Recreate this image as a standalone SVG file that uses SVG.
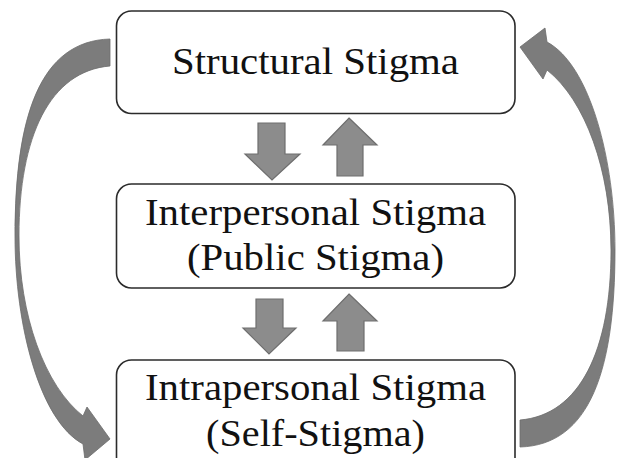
<svg xmlns="http://www.w3.org/2000/svg" width="618" height="458" viewBox="0 0 618 458">
<style>
.box{fill:#ffffff;stroke:#2b2b2b;stroke-width:1.6}
.lbl{font-family:"Liberation Serif","Times New Roman",serif;font-size:38px;fill:#111111;text-anchor:middle}
.blk{fill:#8c8c8c;stroke:#6e6e6e;stroke-width:1.2;stroke-linejoin:miter}
.crv{fill:#7c7c7c;stroke:#6c6c6c;stroke-width:0.8;stroke-linejoin:miter}
</style>
<rect width="618" height="458" fill="#ffffff"/>
<g id="node-structural">
<rect class="box" x="116.5" y="11" width="398.5" height="102.5" rx="15" ry="15"/>
<text class="lbl" x="315.5" y="74" textLength="287" lengthAdjust="spacingAndGlyphs">Structural Stigma</text>
</g>
<g id="node-interpersonal">
<rect class="box" x="116.5" y="184" width="398.5" height="104" rx="15" ry="15"/>
<text class="lbl" x="315.5" y="225" textLength="341" lengthAdjust="spacingAndGlyphs">Interpersonal Stigma</text>
<text class="lbl" x="315.5" y="270" textLength="257" lengthAdjust="spacingAndGlyphs">(Public Stigma)</text>
</g>
<g id="node-intrapersonal">
<rect class="box" x="116.5" y="360" width="398.5" height="120" rx="15" ry="15"/>
<text class="lbl" x="315.5" y="400" textLength="341" lengthAdjust="spacingAndGlyphs">Intrapersonal Stigma</text>
<text class="lbl" x="315.5" y="446" textLength="219" lengthAdjust="spacingAndGlyphs">(Self-Stigma)</text>
</g>
<g id="connectors">
<polygon class="blk" points="258,123 285,123 285,154 300,154 272,180 245,154 258,154"/>
<polygon class="blk" points="349,118 377,145 363,145 363,176 337,176 337,145 323,145"/>
<polygon class="blk" points="256,299 283,299 283,328 296,328 269,354 243,328 256,328"/>
<polygon class="blk" points="349,294 377,321 364,321 364,351 337,351 337,321 323,321"/>
<path class="crv" d="M520,447 C590,445 615,370 615,250 C615,160 590,65 547,42 L545,28 L520,47 L543,79 L547,70 C585,100 611,170 611,250 C611,350 580,415 520,420 Z"/>
<path class="crv" d="M110,39 C40,41 15,116 15,236 C15,326 40,421 83,444 L85,460 L110,439 L87,407 L83,416 C45,386 19,316 19,236 C19,136 50,71 110,66 Z"/>
</g>
</svg>
